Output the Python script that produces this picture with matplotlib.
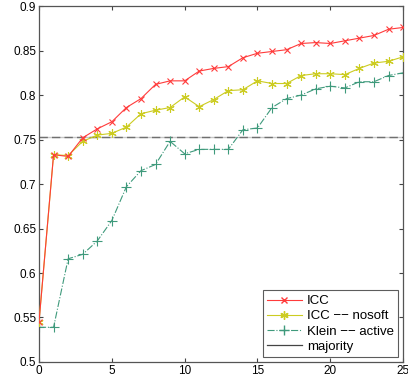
import matplotlib
matplotlib.use('Agg')
import matplotlib.pyplot as plt
from matplotlib.lines import Line2D
import numpy as np

plt.rcParams['font.family'] = ['Liberation Sans', 'DejaVu Sans']

# Data
x = np.arange(0, 26)
icc = [0.545, 0.733, 0.731, 0.752, 0.762, 0.770, 0.786, 0.796, 0.812, 0.816,
       0.816, 0.827, 0.830, 0.832, 0.842, 0.847, 0.849, 0.851, 0.858, 0.859,
       0.858, 0.861, 0.864, 0.867, 0.874, 0.876]
icc_nosoft = [0.545, 0.733, 0.732, 0.748, 0.755, 0.757, 0.764, 0.779, 0.783, 0.786,
              0.798, 0.787, 0.795, 0.805, 0.806, 0.816, 0.813, 0.813, 0.822, 0.824,
              0.824, 0.823, 0.830, 0.836, 0.838, 0.843]
klein_active = [0.539, 0.539, 0.616, 0.621, 0.636, 0.659, 0.697, 0.715, 0.722, 0.748,
                0.734, 0.739, 0.739, 0.739, 0.761, 0.763, 0.786, 0.796, 0.800, 0.807,
                0.810, 0.808, 0.815, 0.815, 0.822, 0.825]
majority = 0.7528

asterisk = (6, 2, 0)

fig = plt.figure(figsize=(4.08, 3.82), dpi=100)
ax = fig.add_axes([0.0956, 0.0524, 0.8924, 0.9316])

ax.axhline(majority, color='#c8c8c8', linewidth=1.0, zorder=1)
ax.axhline(majority, color='#707070', linewidth=1.0, dashes=(6, 3), zorder=1)

ax.plot(x, icc, color='#ff3b3b', linewidth=0.8, marker='x', markersize=4.5,
        markeredgewidth=0.8, zorder=4)
ax.plot(x, icc_nosoft, color='#cccc22', linewidth=0.8, marker=asterisk, markersize=6,
        markeredgewidth=0.8, zorder=3)
ax.plot(x, klein_active, color='#3f9a7c', linewidth=0.8, linestyle='-.',
        marker='+', markersize=6.5, markeredgewidth=0.8, zorder=2)

ax.set_xlim(0, 25)
ax.set_ylim(0.5, 0.9)
ax.set_xticks([0, 5, 10, 15, 20, 25])
ax.set_yticks([0.5, 0.55, 0.6, 0.65, 0.7, 0.75, 0.8, 0.85, 0.9])
ax.set_yticklabels(['0.5', '0.55', '0.6', '0.65', '0.7', '0.75', '0.8', '0.85', '0.9'])
ax.tick_params(direction='in', top=True, right=True, labelsize=8.5, length=3,
               pad=2, color='#444444')
for s in ax.spines.values():
    s.set_color('#555555')
    s.set_linewidth(0.9)

handles = [
    Line2D([0], [0], color='#ff3b3b', linewidth=0.8, marker='x', markersize=4.5),
    Line2D([0], [0], color='#cccc22', linewidth=0.8, marker=asterisk, markersize=6),
    Line2D([0], [0], color='#3f9a7c', linewidth=0.8, linestyle='-.', marker='+', markersize=6.5),
    Line2D([0], [0], color='#444444', linewidth=0.9),
]
labels = ['ICC', 'ICC \u2212\u2212 nosoft', 'Klein \u2212\u2212 active', 'majority']
leg = ax.legend(handles, labels, loc='lower right', fontsize=9.5, frameon=True,
                fancybox=False, edgecolor='#333333', handlelength=2.6,
                borderpad=0.35, labelspacing=0.22, handletextpad=0.4,
                borderaxespad=0.35)
leg.get_frame().set_linewidth(0.8)

fig.savefig('out.png', dpi=100)
